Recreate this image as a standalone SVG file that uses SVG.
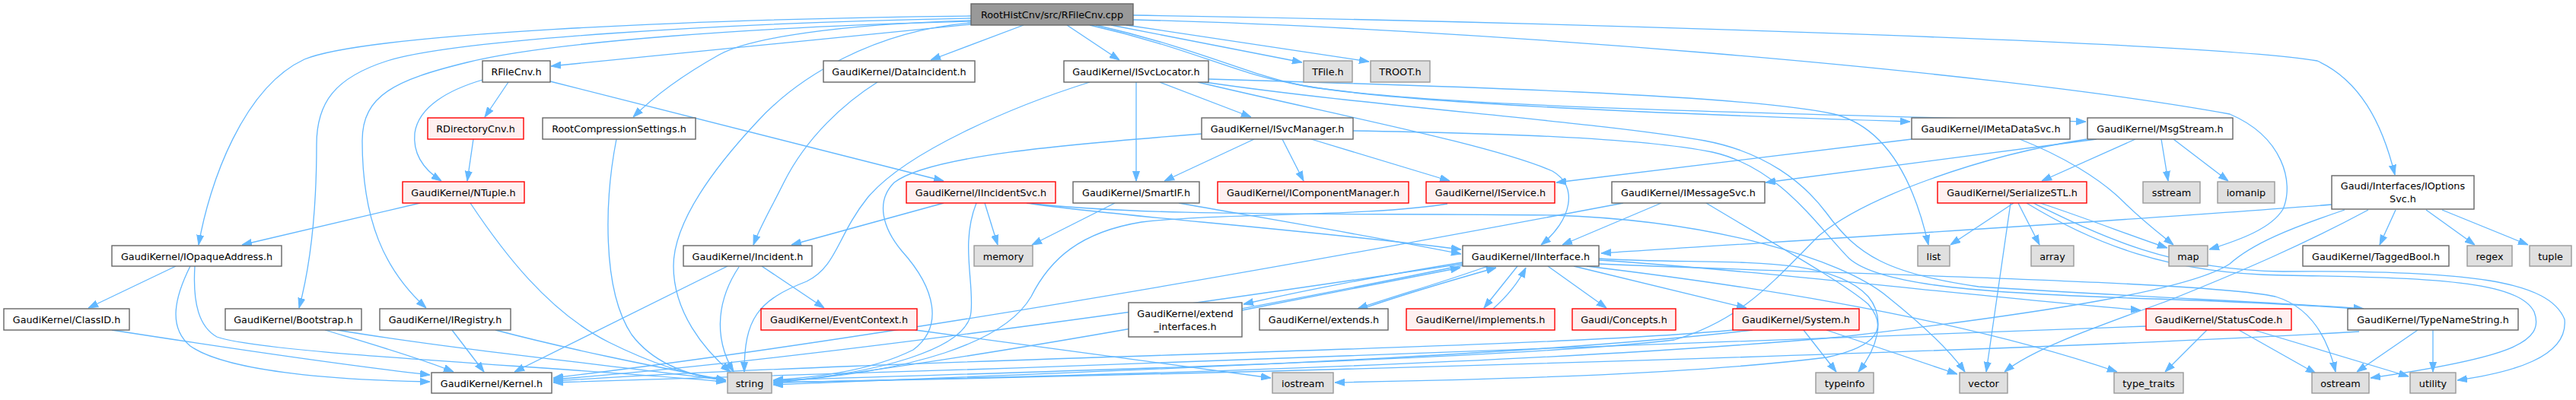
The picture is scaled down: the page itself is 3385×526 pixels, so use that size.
<svg xmlns="http://www.w3.org/2000/svg" width="3385" height="526" viewBox="0 0 3385 526">
<style>
text{font-family:"DejaVu Sans","Liberation Sans",sans-serif;font-size:12.8px;text-anchor:middle;fill:#000}
.n rect{fill:#fff;stroke:#666;stroke-width:1.4}
.r rect{fill:#fff0f0;stroke:#f00;stroke-width:1.4}
.x rect{fill:#e0e0e0;stroke:#999;stroke-width:1.4}
.root rect{fill:#999;stroke:#666;stroke-width:1.4}
#edges path{fill:none;stroke:#63b8ff;stroke-width:1.3;marker-end:url(#a)}
</style>
<defs>
<marker id="a" viewBox="0 0 13 10" refX="13" refY="5" markerWidth="13" markerHeight="10" markerUnits="userSpaceOnUse" orient="auto"><path d="M0,0.5 L13,5 L0,9.5 z" fill="#63b8ff" stroke="#63b8ff" stroke-width="1"/></marker>
</defs>
<rect width="3385" height="526" fill="#fff"/>
<g id="edges">
<path d="M1276,32 L724,87"/>
<path d="M1276,27 C1100,32 985,50 945,72 C895,100 858,128 832,154"/>
<path d="M1276,30 C1150,40 1050,100 995,160 C925,235 885,300 885,350 C885,410 925,460 960,489"/>
<path d="M1276,21 C900,25 480,45 400,78 C320,115 275,240 261,322"/>
<path d="M1276,24 C950,30 600,52 509,80 C440,102 416,135 416,190 C416,290 405,360 393,405"/>
<path d="M1276,28 C1000,35 720,55 614,82 C520,105 476,125 476,185 C476,290 505,355 560,405"/>
<path d="M1345,33 L1223,79"/>
<path d="M1402,33 L1471,79"/>
<path d="M1460,33 L1711,82"/>
<path d="M1480,33 L1799,81"/>
<path d="M1432,33 C1560,62 1620,95 1690,108 C1800,135 2200,150 2510,160"/>
<path d="M1440,33 C1575,64 1640,98 1705,111 C1850,140 2300,148 2741,160"/>
<path d="M1489,20 C2000,28 2900,55 3045,80 C3100,105 3130,160 3147,230"/>
<path d="M1489,26 C1900,36 2600,90 2930,150 C3000,180 3015,240 3000,275 C2985,300 2945,315 2903,328"/>
<path d="M668,108 L637,154"/>
<path d="M634,105 C590,118 550,140 545,175 C542,205 560,225 580,238"/>
<path d="M723,107 L1240,238"/>
<path d="M622,183 L614,238"/>
<path d="M1153,108 C1110,135 1060,180 1030,240 C1010,280 998,300 990,322"/>
<path d="M1524,108 L1644,154"/>
<path d="M1493,108 L1493,238"/>
<path d="M1432,108 C1330,140 1190,200 1140,260 C1100,310 1100,350 1060,370 C995,395 978,420 978,489"/>
<path d="M1574,108 C1750,150 1960,190 2040,225 C2075,245 2065,290 2025,322"/>
<path d="M1588,104 C1900,113 2300,125 2410,150 C2490,170 2520,260 2534,322"/>
<path d="M1583,108 C1800,140 2100,160 2240,185 C2320,200 2370,240 2400,280 C2440,335 2480,360 2600,377 C2800,390 3000,398 3106,406"/>
<path d="M1778,172 C1950,175 2150,180 2250,200 C2340,220 2390,300 2430,340 C2470,375 2600,385 2800,392 C2950,397 3050,402 3106,407"/>
<path d="M1648,183 L1530,238"/>
<path d="M1685,183 L1713,238"/>
<path d="M1723,183 L1905,238"/>
<path d="M1579,176 C1400,190 1220,205 1175,240 C1150,265 1160,300 1185,330 C1230,380 1240,430 1200,460 C1140,490 1060,497 1016,500"/>
<path d="M1240,267 L1040,322"/>
<path d="M1294,267 L1311,322"/>
<path d="M1283,267 C1262,320 1280,370 1276,410 C1272,460 1150,492 1016,502"/>
<path d="M1349,267 C1450,283 1700,300 1920,328"/>
<path d="M1352,267 C1500,285 1750,280 2043,283 C2250,290 2420,340 2480,390 C2530,430 2565,465 2582,489"/>
<path d="M1549,267 C1650,285 1800,310 1920,334"/>
<path d="M1465,267 L1356,322"/>
<path d="M1902,268 C1800,285 1600,280 1500,292 C1420,305 1380,340 1355,390 C1320,450 1200,490 1016,502"/>
<path d="M2512,183 L2045,240"/>
<path d="M2654,183 C2710,205 2760,235 2790,265 C2815,290 2835,305 2856,322"/>
<path d="M2755,183 L2320,240"/>
<path d="M2806,183 L2683,238"/>
<path d="M2840,183 L2849,238"/>
<path d="M2856,183 L2928,238"/>
<path d="M2742,183 C2600,205 2450,260 2390,310 C2330,370 2290,420 2200,447 C2000,470 1500,485 1016,500"/>
<path d="M2183,267 L2053,322"/>
<path d="M2133,267 C1800,330 1200,440 727,497"/>
<path d="M1922,347 C1700,380 1100,470 727,499"/>
<path d="M1922,349 C1700,395 1300,470 1016,504"/>
<path d="M1922,345 C1800,365 1700,385 1634,400"/>
<path d="M1632,408 C1750,385 1850,365 1919,352"/>
<path d="M1955,350 C1900,370 1830,390 1784,406"/>
<path d="M1790,406 C1850,385 1920,365 1966,352"/>
<path d="M1994,350 L1950,405"/>
<path d="M1962,406 C1980,390 1995,372 2005,352"/>
<path d="M2034,350 L2111,405"/>
<path d="M2068,350 L2295,405"/>
<path d="M2101,342 C2300,355 2600,390 2813,408"/>
<path d="M2101,347 C2400,360 2900,370 2990,390 C3040,405 3060,450 3069,489"/>
<path d="M2085,350 C2250,370 2550,410 2782,489"/>
<path d="M2101,340 C2250,350 2400,330 2455,390 C2480,420 2465,460 2442,489"/>
<path d="M2370,434 L2413,489"/>
<path d="M2400,434 L2572,492"/>
<path d="M2278,434 C2000,460 1200,470 727,501"/>
<path d="M2303,434 C2000,470 1400,490 1016,506"/>
<path d="M2900,434 L2845,489"/>
<path d="M2942,434 L3043,491"/>
<path d="M2962,434 L3165,495"/>
<path d="M2820,429 C2500,445 1500,480 727,503"/>
<path d="M3177,434 L3097,489"/>
<path d="M3197,434 L3197,489"/>
<path d="M3100,436 C2700,460 1700,490 1016,503"/>
<path d="M3064,269 C2800,290 2300,320 2104,333"/>
<path d="M3081,276 C3010,300 2960,320 2930,347 C2880,380 2700,410 2420,443 C2000,480 1400,495 1016,503"/>
<path d="M3112,276 C3030,320 2950,355 2850,395 C2740,435 2670,460 2634,489"/>
<path d="M3148,276 L3127,322"/>
<path d="M3188,276 L3252,322"/>
<path d="M3209,276 L3322,322"/>
<path d="M2646,267 L2563,322"/>
<path d="M2642,267 L2610,489"/>
<path d="M2652,267 L2680,322"/>
<path d="M2681,267 C2750,290 2800,310 2848,326"/>
<path d="M2663,267 C2750,320 2850,360 3000,362 C3200,365 3310,370 3330,410 C3345,450 3300,470 3115,497"/>
<path d="M2672,267 C2760,310 2850,355 3000,357 C3250,355 3350,370 3370,420 C3375,470 3300,490 3229,500"/>
<path d="M956,350 L676,489"/>
<path d="M971,351 C945,390 935,440 964,489"/>
<path d="M1001,350 L1083,405"/>
<path d="M1203,434 L1670,497"/>
<path d="M2242,267 C2330,320 2420,370 2455,400 C2480,430 2470,455 2400,470 C2200,495 1900,500 1754,503"/>
<path d="M552,267 L318,322"/>
<path d="M618,267 C660,330 720,410 800,450 C860,480 910,495 954,500"/>
<path d="M231,350 L116,405"/>
<path d="M250,350 C230,390 220,430 250,455 C300,490 450,500 565,502"/>
<path d="M256,350 C253,400 262,430 285,443 C350,465 700,480 954,502"/>
<path d="M147,434 C250,450 450,480 565,493"/>
<path d="M427,434 C480,450 550,470 596,489"/>
<path d="M443,434 C600,460 800,480 954,500"/>
<path d="M594,434 L636,489"/>
<path d="M651,434 C750,460 850,480 954,500"/>
<path d="M810,183 C795,260 790,380 830,440 C860,480 910,495 954,500"/>
</g>
<g id="root" class="root"><rect x="1276" y="5" width="213" height="28"/><text x="1382.5" y="24">RootHistCnv/src/RFileCnv.cpp</text></g>
<g id="RFileCnv" class="n"><rect x="634" y="80" width="89" height="28"/><text x="678.5" y="99">RFileCnv.h</text></g>
<g id="DataIncident" class="n"><rect x="1082" y="80" width="199" height="28"/><text x="1181.5" y="99">GaudiKernel/DataIncident.h</text></g>
<g id="ISvcLocator" class="n"><rect x="1398" y="80" width="190" height="28"/><text x="1493" y="99">GaudiKernel/ISvcLocator.h</text></g>
<g id="TFile" class="x"><rect x="1713" y="80" width="64" height="28"/><text x="1745" y="99">TFile.h</text></g>
<g id="TROOT" class="x"><rect x="1801" y="80" width="78" height="28"/><text x="1840" y="99">TROOT.h</text></g>
<g id="RDirectoryCnv" class="r"><rect x="562" y="155" width="126" height="28"/><text x="625" y="174">RDirectoryCnv.h</text></g>
<g id="RootCompressionSettings" class="n"><rect x="713" y="155" width="201" height="28"/><text x="813.5" y="174">RootCompressionSettings.h</text></g>
<g id="ISvcManager" class="n"><rect x="1579" y="155" width="199" height="28"/><text x="1678.5" y="174">GaudiKernel/ISvcManager.h</text></g>
<g id="IMetaDataSvc" class="n"><rect x="2512" y="155" width="208" height="28"/><text x="2616" y="174">GaudiKernel/IMetaDataSvc.h</text></g>
<g id="MsgStream" class="n"><rect x="2743" y="155" width="191" height="28"/><text x="2838.5" y="174">GaudiKernel/MsgStream.h</text></g>
<g id="NTuple" class="r"><rect x="529" y="239" width="160" height="28"/><text x="609" y="258">GaudiKernel/NTuple.h</text></g>
<g id="IIncidentSvc" class="r"><rect x="1191" y="239" width="196" height="28"/><text x="1289" y="258">GaudiKernel/IIncidentSvc.h</text></g>
<g id="SmartIF" class="n"><rect x="1410" y="239" width="166" height="28"/><text x="1493" y="258">GaudiKernel/SmartIF.h</text></g>
<g id="IComponentManager" class="r"><rect x="1600" y="239" width="251" height="28"/><text x="1725.5" y="258">GaudiKernel/IComponentManager.h</text></g>
<g id="IService" class="r"><rect x="1874" y="239" width="169" height="28"/><text x="1958.5" y="258">GaudiKernel/IService.h</text></g>
<g id="IMessageSvc" class="n"><rect x="2118" y="239" width="201" height="28"/><text x="2218.5" y="258">GaudiKernel/IMessageSvc.h</text></g>
<g id="SerializeSTL" class="r"><rect x="2546" y="239" width="196" height="28"/><text x="2644" y="258">GaudiKernel/SerializeSTL.h</text></g>
<g id="sstream" class="x"><rect x="2816" y="239" width="75" height="28"/><text x="2853.5" y="258">sstream</text></g>
<g id="iomanip" class="x"><rect x="2914" y="239" width="75" height="28"/><text x="2951.5" y="258">iomanip</text></g>
<g id="IOptionsSvc" class="n"><rect x="3064" y="231" width="187" height="44"/><text x="3157.5" y="249">Gaudi/Interfaces/IOptions</text><text x="3157.5" y="265.7">Svc.h</text></g>
<g id="IOpaqueAddress" class="n"><rect x="147" y="323" width="223" height="27"/><text x="258.5" y="341.5">GaudiKernel/IOpaqueAddress.h</text></g>
<g id="Incident" class="n"><rect x="898" y="323" width="169" height="27"/><text x="982.5" y="341.5">GaudiKernel/Incident.h</text></g>
<g id="memory" class="x"><rect x="1280" y="323" width="77" height="27"/><text x="1318.5" y="341.5">memory</text></g>
<g id="IInterface" class="n"><rect x="1922" y="323" width="179" height="27"/><text x="2011.5" y="341.5">GaudiKernel/IInterface.h</text></g>
<g id="list" class="x"><rect x="2520" y="323" width="42" height="27"/><text x="2541" y="341.5">list</text></g>
<g id="array" class="x"><rect x="2669" y="323" width="56" height="27"/><text x="2697" y="341.5">array</text></g>
<g id="map" class="x"><rect x="2850" y="323" width="51" height="27"/><text x="2875.5" y="341.5">map</text></g>
<g id="TaggedBool" class="n"><rect x="3026" y="323" width="192" height="27"/><text x="3122" y="341.5">GaudiKernel/TaggedBool.h</text></g>
<g id="regex" class="x"><rect x="3242" y="323" width="59" height="27"/><text x="3271.5" y="341.5">regex</text></g>
<g id="tuple" class="x"><rect x="3324" y="323" width="55" height="27"/><text x="3351.5" y="341.5">tuple</text></g>
<g id="ClassID" class="n"><rect x="5" y="406" width="165" height="28"/><text x="87.5" y="425">GaudiKernel/ClassID.h</text></g>
<g id="Bootstrap" class="n"><rect x="296" y="406" width="179" height="28"/><text x="385.5" y="425">GaudiKernel/Bootstrap.h</text></g>
<g id="IRegistry" class="n"><rect x="499" y="406" width="172" height="28"/><text x="585" y="425">GaudiKernel/IRegistry.h</text></g>
<g id="EventContext" class="r"><rect x="1000" y="406" width="205" height="28"/><text x="1102.5" y="425">GaudiKernel/EventContext.h</text></g>
<g id="extend_interfaces" class="n"><rect x="1483" y="398" width="149" height="45"/><text x="1557.5" y="416.7">GaudiKernel/extend</text><text x="1557.5" y="434">_interfaces.h</text></g>
<g id="extends" class="n"><rect x="1655" y="406" width="169" height="28"/><text x="1739.5" y="425">GaudiKernel/extends.h</text></g>
<g id="implements" class="r"><rect x="1848" y="406" width="195" height="28"/><text x="1945.5" y="425">GaudiKernel/implements.h</text></g>
<g id="Concepts" class="r"><rect x="2066" y="406" width="136" height="28"/><text x="2134" y="425">Gaudi/Concepts.h</text></g>
<g id="System" class="r"><rect x="2277" y="406" width="166" height="28"/><text x="2360" y="425">GaudiKernel/System.h</text></g>
<g id="StatusCode" class="r"><rect x="2820" y="406" width="191" height="28"/><text x="2915.5" y="425">GaudiKernel/StatusCode.h</text></g>
<g id="TypeNameString" class="n"><rect x="3085" y="406" width="224" height="28"/><text x="3197" y="425">GaudiKernel/TypeNameString.h</text></g>
<g id="Kernel" class="n"><rect x="567" y="490" width="158" height="27"/><text x="646" y="508.5">GaudiKernel/Kernel.h</text></g>
<g id="string" class="x"><rect x="956" y="490" width="58" height="27"/><text x="985" y="508.5">string</text></g>
<g id="iostream" class="x"><rect x="1672" y="490" width="80" height="27"/><text x="1712" y="508.5">iostream</text></g>
<g id="typeinfo" class="x"><rect x="2386" y="490" width="76" height="27"/><text x="2424" y="508.5">typeinfo</text></g>
<g id="vector" class="x"><rect x="2575" y="490" width="63" height="27"/><text x="2606.5" y="508.5">vector</text></g>
<g id="type_traits" class="x"><rect x="2778" y="490" width="91" height="27"/><text x="2823.5" y="508.5">type_traits</text></g>
<g id="ostream" class="x"><rect x="3038" y="490" width="75" height="27"/><text x="3075.5" y="508.5">ostream</text></g>
<g id="utility" class="x"><rect x="3167" y="490" width="60" height="27"/><text x="3197" y="508.5">utility</text></g>
</svg>
